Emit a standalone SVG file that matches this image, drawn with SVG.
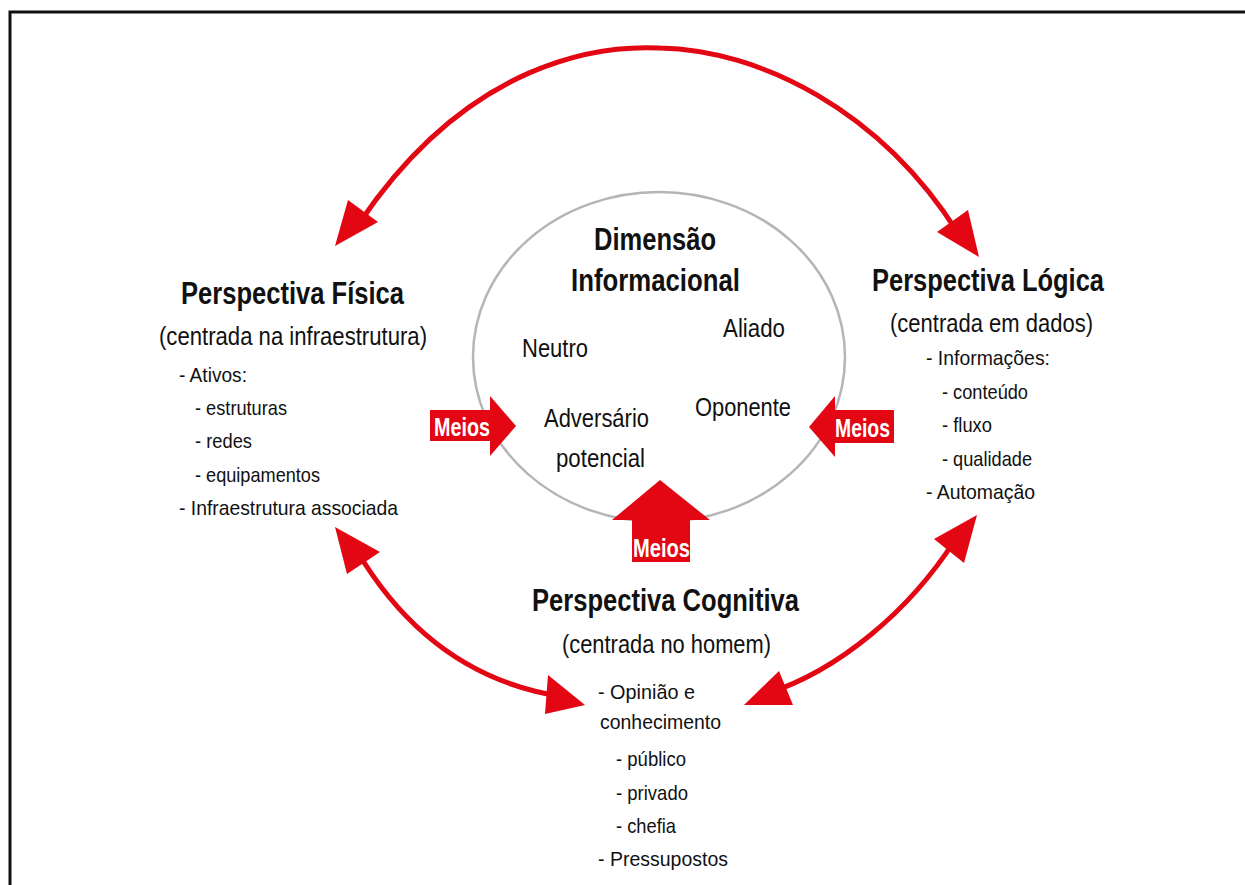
<svg xmlns="http://www.w3.org/2000/svg" width="1245" height="885" viewBox="0 0 1245 885">
<style>
.t{font-family:"Liberation Sans",Arial,sans-serif;fill:#111}
.b{font-weight:bold;font-size:31px}
.s{font-size:26px}
.l{font-size:21px}
.m{font-family:"Liberation Sans",Arial,sans-serif;font-weight:bold;font-size:26px;fill:#fff}
.arc{fill:none;stroke:#e30613;stroke-width:5}
.hd{fill:#e30613}
</style>
<rect width="1245" height="885" fill="#fff"/>
<path d="M10,885 V12 H1245" fill="none" stroke="#111" stroke-width="3"/>
<g id="ellipse-node">
<ellipse cx="659" cy="357" rx="186" ry="165" fill="none" stroke="#b5b5b5" stroke-width="2.5"/>
<text class="t b" x="594" y="250" textLength="122" lengthAdjust="spacingAndGlyphs">Dimensão</text>
<text class="t b" x="571" y="291" textLength="169" lengthAdjust="spacingAndGlyphs">Informacional</text>
<text class="t s" x="522" y="357" textLength="66" lengthAdjust="spacingAndGlyphs">Neutro</text>
<text class="t s" x="723" y="337" textLength="62" lengthAdjust="spacingAndGlyphs">Aliado</text>
<text class="t s" x="544" y="427" textLength="105" lengthAdjust="spacingAndGlyphs">Adversário</text>
<text class="t s" x="556" y="467" textLength="89" lengthAdjust="spacingAndGlyphs">potencial</text>
<text class="t s" x="695" y="416" textLength="96" lengthAdjust="spacingAndGlyphs">Oponente</text>
</g>
<g id="fisica">
<text class="t b" x="181" y="304" textLength="223" lengthAdjust="spacingAndGlyphs">Perspectiva Física</text>
<text class="t s" x="159" y="345" textLength="268" lengthAdjust="spacingAndGlyphs">(centrada na infraestrutura)</text>
<text class="t l" x="179" y="382" textLength="68" lengthAdjust="spacingAndGlyphs">- Ativos:</text>
<text class="t l" x="195" y="415" textLength="92" lengthAdjust="spacingAndGlyphs">- estruturas</text>
<text class="t l" x="195" y="448" textLength="57" lengthAdjust="spacingAndGlyphs">- redes</text>
<text class="t l" x="195" y="482" textLength="125" lengthAdjust="spacingAndGlyphs">- equipamentos</text>
<text class="t l" x="179" y="515" textLength="219" lengthAdjust="spacingAndGlyphs">- Infraestrutura associada</text>
</g>
<g id="logica">
<text class="t b" x="872" y="291" textLength="232" lengthAdjust="spacingAndGlyphs">Perspectiva Lógica</text>
<text class="t s" x="890" y="332" textLength="203" lengthAdjust="spacingAndGlyphs">(centrada em dados)</text>
<text class="t l" x="926" y="365" textLength="124" lengthAdjust="spacingAndGlyphs">- Informações:</text>
<text class="t l" x="942" y="399" textLength="86" lengthAdjust="spacingAndGlyphs">- conteúdo</text>
<text class="t l" x="942" y="432" textLength="50" lengthAdjust="spacingAndGlyphs">- fluxo</text>
<text class="t l" x="942" y="466" textLength="90" lengthAdjust="spacingAndGlyphs">- qualidade</text>
<text class="t l" x="926" y="499" textLength="109" lengthAdjust="spacingAndGlyphs">- Automação</text>
</g>
<g id="cognitiva">
<text class="t b" x="532" y="611" textLength="267" lengthAdjust="spacingAndGlyphs">Perspectiva Cognitiva</text>
<text class="t s" x="562" y="653" textLength="209" lengthAdjust="spacingAndGlyphs">(centrada no homem)</text>
<text class="t l" x="598" y="699" textLength="97" lengthAdjust="spacingAndGlyphs">- Opinião e</text>
<text class="t l" x="600" y="729" textLength="121" lengthAdjust="spacingAndGlyphs">conhecimento</text>
<text class="t l" x="616" y="766" textLength="70" lengthAdjust="spacingAndGlyphs">- público</text>
<text class="t l" x="616" y="800" textLength="72" lengthAdjust="spacingAndGlyphs">- privado</text>
<text class="t l" x="616" y="833" textLength="60" lengthAdjust="spacingAndGlyphs">- chefia</text>
<text class="t l" x="598" y="866" textLength="130" lengthAdjust="spacingAndGlyphs">- Pressupostos</text>
</g>
<g id="meios-left">
<path class="hd" d="M430,410 H490 V396 L516,426 L490,456 V441 H430 Z"/>
<text class="m" x="434" y="436" textLength="56" lengthAdjust="spacingAndGlyphs">Meios</text>
</g>
<g id="meios-right">
<path class="hd" d="M894,410 H835 V396 L809,427 L835,457 V443 H894 Z"/>
<text class="m" x="835" y="437" textLength="55" lengthAdjust="spacingAndGlyphs">Meios</text>
</g>
<g id="meios-bottom">
<path class="hd" d="M660,480 L710,520 H690 V562 H632 V520 H612 Z"/>
<text class="m" x="633" y="557" textLength="57" lengthAdjust="spacingAndGlyphs">Meios</text>
</g>
<g id="connectors">
<path class="arc" d="M360,222 C470,60 600,45 660,48 C760,50 880,110 958,233"/>
<path class="hd" d="M335,246 L348,200 L378,222 Z"/>
<path class="hd" d="M979,257 L968,210 L937,232 Z"/>
<path class="arc" d="M357,551 C410,640 480,685 565,697"/>
<path class="hd" d="M335,527 L380,552 L347,574 Z"/>
<path class="hd" d="M585,705 L548,675 L545,714 Z"/>
<path class="arc" d="M955,540 C910,610 840,670 766,694"/>
<path class="hd" d="M977,515 L934,539 L964,563 Z"/>
<path class="hd" d="M744,705 L779,671 L793,705 Z"/>
</g>
</svg>
